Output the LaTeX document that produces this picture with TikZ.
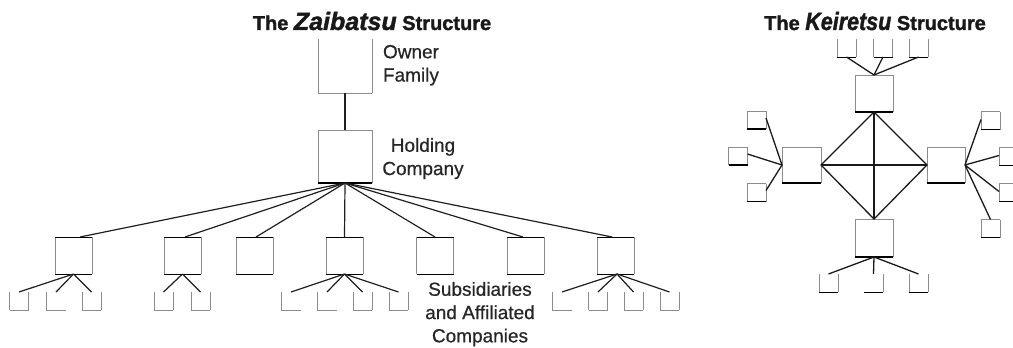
\documentclass[tikz,border=0pt]{standalone}
\usepackage{fontspec}
\setmainfont{Liberation Sans}
\newfontfamily\lblfont{Liberation Sans}[FakeBold=0.6]
\newfontfamily\ttlfont{Liberation Sans Bold}[FakeBold=1.6]
\newfontfamily\ttlitfont{Liberation Sans Bold Italic}[FakeBold=1.6]
\usepackage{graphicx}
\begin{document}
\begin{tikzpicture}[x=1pt,y=-1pt,
  every node/.style={inner sep=0pt, outer sep=0pt},
  gline/.style={draw=black!45, line width=0.8pt},
  kline/.style={draw=black, line width=0.9pt},
  thickline/.style={draw=black, line width=1.8pt},
  sideL/.style={append after command={\pgfextra{\draw[gline] (\tikzlastnode.north west) -- (\tikzlastnode.south west);}}},
  sideR/.style={append after command={\pgfextra{\draw[gline] (\tikzlastnode.north east) -- (\tikzlastnode.south east);}}},
  topB/.style={append after command={\pgfextra{\draw[kline] (\tikzlastnode.north west) -- (\tikzlastnode.north east);}}},
  topG/.style={append after command={\pgfextra{\draw[gline] (\tikzlastnode.north west) -- (\tikzlastnode.north east);}}},
  botB/.style={append after command={\pgfextra{\draw[kline] (\tikzlastnode.south west) -- (\tikzlastnode.south east);}}},
  botK/.style={append after command={\pgfextra{\draw[thickline] (\tikzlastnode.south west) -- (\tikzlastnode.south east);}}},
  botG/.style={append after command={\pgfextra{\draw[gline] (\tikzlastnode.south west) -- (\tikzlastnode.south east);}}},
  mid/.style={minimum width=37pt, minimum height=37pt, sideL, sideR, topB, botB},
  sub/.style={minimum width=19pt, minimum height=18pt, sideL, sideR, botG},
  subL/.style={minimum width=20pt, minimum height=18pt, sideL, botG},
  kbig/.style={minimum width=38pt, minimum height=37pt, sideL, sideR, topG, botK},
  ksat/.style={minimum width=19pt, minimum height=18pt, sideL, sideR, topG, botK},
  kopen/.style={minimum width=19pt, minimum height=18pt, sideL, sideR, botB},
  link/.style={draw=black!88, line width=1.2pt},
  klink/.style={draw=black!90, line width=1.3pt},
  lbl/.style={font=\lblfont\fontsize{19}{23.3}\selectfont, text=black!85},
  ttl/.style={font=\ttlfont\fontsize{20}{20}\selectfont, text=black!90}
]
\clip (0,0) rectangle (1013,348);

% ---------- Zaibatsu ----------
\node[ttl, anchor=base] (zt) at (372,30) {The {\ttlitfont\fontsize{25}{25}\selectfont Zaibatsu} Structure};

\node[minimum width=54pt, minimum height=54pt, sideL, sideR, botG] (owner) at (345,66) {};
\node[minimum width=54pt, minimum height=53pt, sideL, sideR, topG, botK] (holding) at (345,156.5) {};
\node[lbl, anchor=north west, align=left] (ownerlbl) at (383,45) {Owner\\Family};
\node[lbl, anchor=north, align=center] (holdlbl) at (423,138) {Holding\\Company};

\node[mid] (b1) at (73.5,255.5) {};
\node[mid] (b2) at (182.5,255.5) {};
\node[mid] (b3) at (254.5,255.5) {};
\node[mid] (b4) at (344.5,255.5) {};
\node[mid] (b5) at (435,255.5) {};
\node[mid] (b6) at (525.5,255.5) {};
\node[mid] (b7) at (615.5,255.5) {};

\node[sub]  (s11) at (19,301) {};
\node[subL] (s12) at (56,301) {};
\node[sub]  (s13) at (91.5,301) {};
\node[sub]  (s21) at (163.5,301) {};
\node[sub]  (s22) at (200.5,301) {};
\node[subL] (s41) at (291,301) {};
\node[subL] (s42) at (327,301) {};
\node[sub]  (s43) at (362.5,301) {};
\node[sub]  (s44) at (398.5,301) {};
\node[subL] (s71) at (562,301) {};
\node[sub]  (s72) at (598,301) {};
\node[sub]  (s73) at (633.5,301) {};
\node[sub]  (s74) at (669.5,301) {};

\node[lbl, anchor=north, align=center] (sublbl) at (480,282) {Subsidiaries\\and Affiliated\\Companies};

\draw[link] (owner.south) -- (holding.north);
\foreach \b/\s in {b1/6.5, b2/2.5, b3/1.5, b4/0, b5/0, b6/-2.5, b7/-3.5}
  \draw[link] (holding.south) -- ([xshift=\s pt]\b.north);
\foreach \s in {s11,s12,s13} \draw[link] (b1.south) -- (\s.north);
\foreach \s in {s21,s22} \draw[link] (b2.south) -- (\s.north);
\foreach \s in {s41,s42,s43,s44} \draw[link] (b4.south) -- (\s.north);
\foreach \s in {s71,s72,s73,s74} \draw[link] ([xshift=1.5pt]b7.south) -- (\s.north);

% ---------- Keiretsu ----------
\node[ttl, anchor=base] (kt) at (875,30) {The \scalebox{0.86}[1]{\ttlitfont\fontsize{25}{25}\selectfont Keiretsu} Structure};

\node[kbig] (kT) at (874,93.5) {};
\node[kbig, minimum width=39pt, minimum height=36pt] (kL) at (801.5,165) {};
\node[kbig, minimum height=36pt] (kR) at (946,165) {};
\node[kbig, minimum height=38pt] (kB) at (874,238) {};

\node[kopen] (tA) at (846.5,48) {};
\node[kopen] (tB) at (883,48) {};
\node[kopen] (tC) at (918.5,48) {};

\node[ksat] (l1) at (756.5,120) {};
\node[ksat] (l2) at (738,156) {};
\node[ksat] (l3) at (756.5,192.5) {};

\node[ksat] (r1) at (990.5,120.5) {};
\node[ksat] (r2) at (1008.5,156.5) {};
\node[ksat] (r3) at (1008.5,192.5) {};
\node[ksat] (r4) at (990.5,228.5) {};

\node[kopen] (d1) at (828.5,283) {};
\node[minimum width=19pt, minimum height=18pt, sideR, botB] (d2) at (873.5,283) {};
\node[kopen] (d3) at (918.5,283) {};

\draw[klink] (kT.south) -- (kR.west) -- (kB.north) -- (kL.east) -- cycle;
\draw[klink] (kL.east) -- (kR.west);
\draw[klink] (kT.south) -- (kB.north);
\foreach \s in {tA,tB,tC} \draw[klink] (\s.south) -- (kT.north);
\foreach \s in {l1,l2,l3} \draw[klink] ([yshift=2pt]\s.east) -- (kL.west);
\foreach \s in {r1,r2,r3} \draw[klink] ([yshift=1pt]\s.west) -- (kR.east);
\draw[klink] (r4.north) -- (kR.east);
\foreach \s in {d1,d2,d3} \draw[klink] (kB.south) -- (\s.north);
\end{tikzpicture}
\end{document}
